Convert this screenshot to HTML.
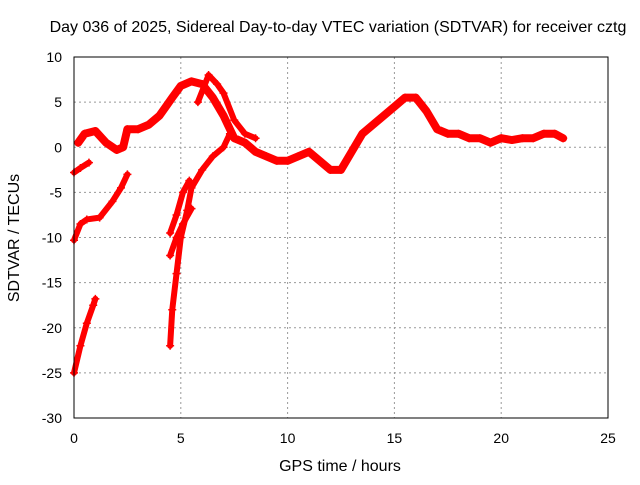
<!DOCTYPE html>
<html><head><meta charset="utf-8"><style>
body{margin:0;background:#fff}
svg text{font-family:"Liberation Sans",sans-serif;font-size:14px;fill:#000}
svg text.big{font-size:16px}
</style></head><body>
<svg id="chart" width="640" height="480" viewBox="0 0 640 480">
<rect width="640" height="480" fill="#fff"/>
<text class="big" x="338" y="32" text-anchor="middle">Day 036 of 2025, Sidereal Day-to-day VTEC variation (SDTVAR) for receiver cztg</text>
<text class="big" x="340" y="471" text-anchor="middle">GPS time / hours</text>
<text class="big" x="0" y="0" transform="translate(19,238) rotate(-90)" text-anchor="middle">SDTVAR / TECUs</text>
<g id="grid"></g><g id="ticks"></g><g id="marks"></g>
<rect x="74" y="57" width="534" height="361" fill="none" stroke="#000" stroke-width="1"/>
</svg>
<script>
const xTicks=[0,5,10,15,20,25];
const yTicks=[10,5,0,-5,-10,-15,-20,-25,-30];
const trackMainT=[0.2,0.5,1.0,1.5,2.0,2.3,2.5,3.0,3.5,4.0,4.3,4.6,5.0,5.5,6.0,6.5,7.0,7.5,8.0,8.5,9.0,9.5,10,10.5,11,11.5,12,12.5,13,13.5,14,14.5,15,15.5,16,16.5,17,17.5,18,18.5,19,19.5,20,20.5,21,21.5,22,22.5,22.9];
const trackMainV=[0.5,1.5,1.8,0.5,-0.3,0,2,2,2.5,3.5,4.5,5.5,6.8,7.3,7,5.5,3.5,1,0.5,-0.5,-1,-1.5,-1.5,-1,-0.5,-1.5,-2.5,-2.5,-0.5,1.5,2.5,3.5,4.5,5.5,5.5,4,2,1.5,1.5,1,1,0.5,1,0.8,1,1,1.5,1.5,1];
const trackBT=[5.8,6.3,6.7,7.0,7.5,8.0,8.5];
const trackBV=[5,8,7,6,3,1.5,1];
const trackCT=[0,0.3,0.7];
const trackCV=[-2.8,-2.3,-1.7];
const trackDT=[0,0.3,0.6,1.2,1.8,2.2,2.5];
const trackDV=[-10.3,-8.5,-8,-7.8,-6,-4.5,-3];
const trackET=[0,0.3,0.6,0.9,1.0];
const trackEV=[-25,-22,-19.5,-17.5,-16.8];
const trackFT=[4.5,4.6,4.8,5.0,5.3,5.5,6.0,6.5,7.0,7.3];
const trackFV=[-22,-18,-14,-10,-7,-4.5,-2.5,-1,0,1.5];
const trackGT=[4.5,4.8,5.1,5.4];
const trackGV=[-9.5,-7.5,-5,-3.7];
const trackHT=[4.5,4.8,5.1,5.5];
const trackHV=[-12,-10,-8.5,-6.8];
const tracks=[[trackMainT,trackMainV],[trackBT,trackBV],[trackCT,trackCV],[trackDT,trackDV],[trackET,trackEV],[trackFT,trackFV],[trackGT,trackGV],[trackHT,trackHV]];
const X=t=>74+t*(534/25), Y=v=>57+(10-v)*(361/40);
const NS="http://www.w3.org/2000/svg";
const grid=document.getElementById('grid'),ticks=document.getElementById('ticks'),marks=document.getElementById('marks');
function mk(tag,a,p){const e=document.createElementNS(NS,tag);for(const k in a)e.setAttribute(k,a[k]);p.appendChild(e);return e;}
xTicks.forEach(t=>{
 const l=mk('line',{x1:X(t),x2:X(t),y1:57,y2:418,stroke:'#999','stroke-dasharray':'2,3'},grid);
 
 
 const tx=mk('text',{x:X(t),y:443,'text-anchor':'middle'},ticks);tx.textContent=t;
 
 
});
yTicks.forEach(v=>{
 const l=mk('line',{x1:74,x2:608,y1:Y(v),y2:Y(v),stroke:'#999','stroke-dasharray':'2,3'},grid);
 
 
 const tx=mk('text',{x:62,y:Y(v)+5,'text-anchor':'end'},ticks);tx.textContent=v;
 
 
});
tracks.forEach(([T,V],i)=>{
 const pts=T.map((t,j)=>X(t)+','+Y(V[j])).join(' ');
 const pl=mk('polyline',{points:pts,fill:'none',stroke:'#f00','stroke-width':i===0?8:6,'stroke-linejoin':'round','stroke-linecap':'round'},marks);
 
 
 T.forEach((t,j)=>{
  const x=X(t),y=Y(V[j]);
  const p=mk('path',{d:`M${x-4},${y}h8M${x},${y-4}v8`,stroke:'#f00','stroke-width':1.5},marks);
  
  
 });
});
</script>
</body></html>
